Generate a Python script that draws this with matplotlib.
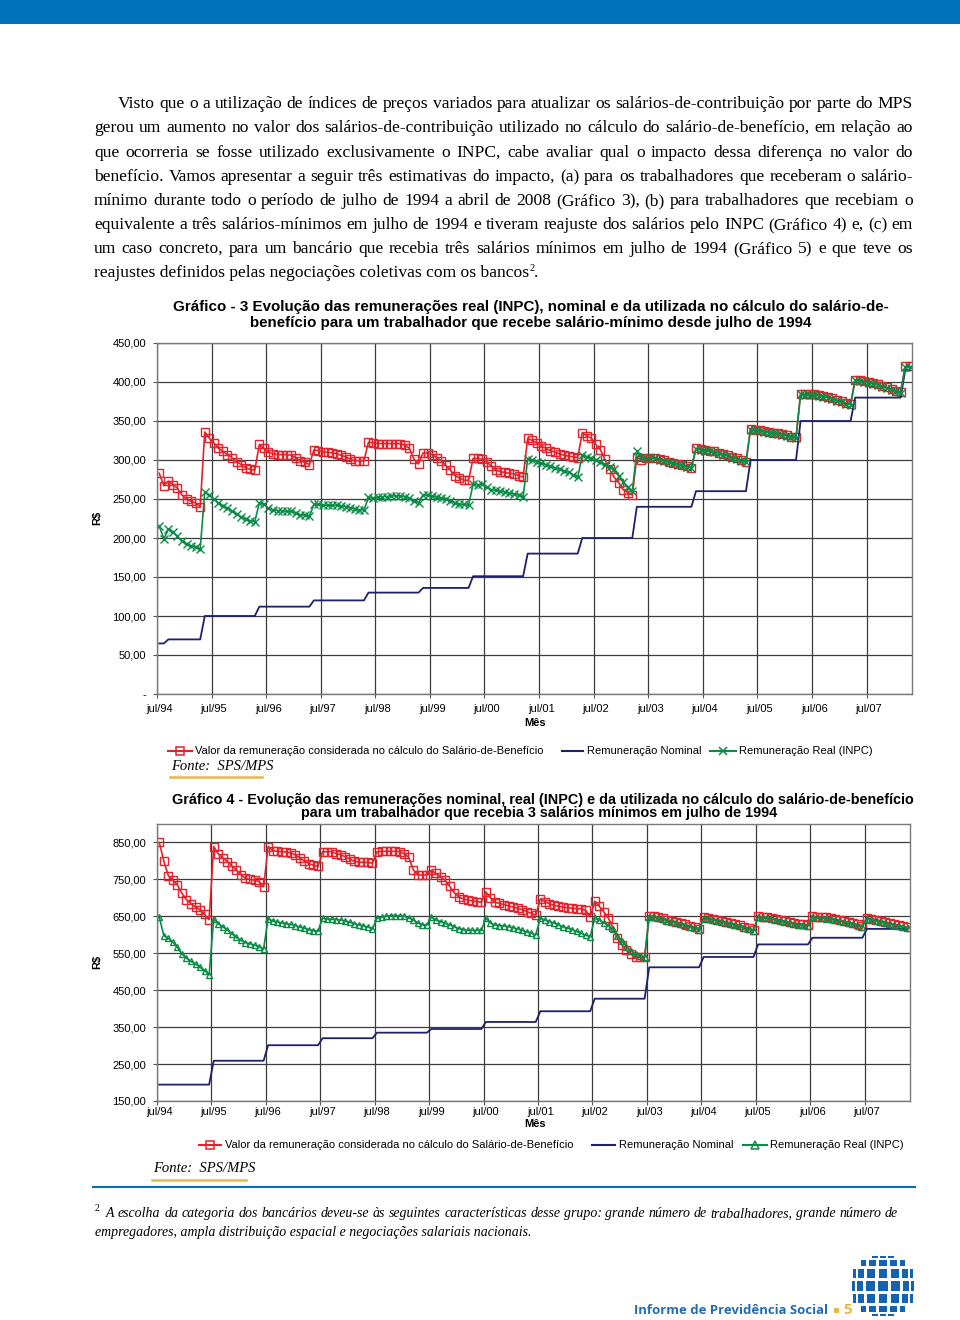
import numpy as np
import matplotlib
matplotlib.use('Agg')
import matplotlib.pyplot as plt
from matplotlib.lines import Line2D
from matplotlib.patches import Rectangle
from matplotlib.ticker import FuncFormatter

# ---------------- dados ----------------
rotulos_x = ['jul/94', 'jul/95', 'jul/96', 'jul/97', 'jul/98', 'jul/99', 'jul/00',
             'jul/01', 'jul/02', 'jul/03', 'jul/04', 'jul/05', 'jul/06', 'jul/07']

# Gráfico 3: salário-mínimo (jul/94 a abr/08, mensal)
nominal_g3_valores = [64.79, 70, 100, 112, 120, 130, 136, 151, 180, 200, 240, 260, 300, 350, 380, 415]
nominal_g3_meses = [2, 8, 12, 12, 12, 12, 11, 12, 12, 12, 13, 12, 11, 12, 11, 2]

valor_sb_g3 = [
    283, 267, 273, 268, 264, 255, 250, 247, 245, 240,
    336, 328, 322, 315, 311, 307, 303, 298, 294, 290, 288, 287,
    320, 315, 310, 308, 307, 307, 307, 306, 303, 299, 297, 294,
    313, 312, 310, 310, 309, 308, 306, 304, 301, 299, 299, 299,
    323, 322, 321, 321, 321, 321, 321, 321, 319, 315, 301, 295,
    309, 309, 307, 303, 299, 293, 287, 280, 277, 274, 274,
    302, 302, 301, 298, 292, 287, 285, 284, 283, 282, 280, 278,
    328, 325, 322, 318, 315, 312, 310, 308, 306, 305, 304, 303,
    335, 331, 328, 320, 313, 301, 288, 278, 271, 262, 258, 255,
    304, 300, 302, 303, 303, 301, 300, 298, 296, 295, 293, 292, 290,
    315, 314, 313, 312, 311, 309, 308, 306, 304, 302, 300, 298,
    340, 339, 338, 337, 336, 335, 334, 333, 332, 330, 329,
    385, 384, 384, 384, 383, 382, 381, 379, 377, 375, 373, 372,
    403, 402, 401, 400, 399, 397, 395, 393, 391, 389, 387,
    420, 420]

real_g3 = [
    215, 199, 211, 208, 202, 196, 192, 190, 188, 186,
    259, 255, 250, 245, 241, 238, 235, 231, 227, 224, 222, 221,
    245, 243, 238, 236, 235, 235, 234, 234, 232, 230, 229, 228,
    243, 243, 242, 242, 242, 242, 241, 240, 239, 237, 236, 236,
    252, 251, 252, 253, 253, 254, 254, 254, 253, 251, 248, 245,
    255, 255, 254, 252, 251, 250, 248, 245, 243, 243, 242,
    269, 268, 269, 266, 262, 261, 260, 259, 258, 256, 255, 253,
    301, 300, 298, 296, 294, 292, 290, 288, 286, 284, 281, 278,
    306, 304, 302, 300, 297, 294, 291, 288, 280, 272, 265, 260,
    312, 303, 302, 303, 302, 300, 299, 297, 296, 294, 293, 291, 290,
    314, 313, 312, 311, 310, 309, 307, 305, 303, 301, 299, 297,
    339, 338, 337, 336, 335, 334, 333, 332, 331, 329, 328,
    384, 383, 383, 383, 382, 381, 380, 378, 376, 374, 372, 371,
    402, 401, 400, 399, 398, 396, 394, 392, 390, 388, 386,
    419, 419]

# Gráfico 4: 3 salários mínimos em jul/94 reajustados pelo INPC
nominal_g4_valores = [194.37, 259, 301, 320, 335, 345, 364, 393, 427, 512, 540, 574, 592, 616]
nominal_g4_meses = [12] * 13 + [10]

valor_sb_g4 = [
    850, 800, 760, 748, 735, 712, 695, 684, 676, 667, 655, 641,
    839, 819, 808, 798, 787, 775, 763, 753, 750, 748, 744, 730,
    839, 828, 826, 825, 824, 822, 816, 808, 800, 793, 788, 785,
    825, 825, 825, 820, 817, 811, 805, 799, 797, 796, 796, 794,
    825, 826, 826, 826, 826, 825, 819, 810, 776, 762, 762, 762,
    775, 766, 757, 748, 732, 714, 703, 697, 694, 692, 690, 688,
    716, 700, 688, 685, 682, 678, 675, 672, 668, 663, 658, 653,
    697, 690, 684, 680, 677, 675, 673, 672, 671, 670, 666, 648,
    691, 677, 662, 645, 620, 590, 572, 558, 547, 541, 539, 539,
    651, 651, 648, 645, 641, 638, 635, 631, 628, 624, 621, 617,
    647, 646, 644, 641, 638, 635, 632, 629, 626, 622, 618, 613,
    650, 649, 648, 646, 643, 640, 637, 634, 632, 630, 629, 627,
    650, 649, 648, 647, 645, 642, 640, 637, 634, 631, 628, 625,
    646, 644, 641, 638, 635, 632, 629, 626, 623, 620]

real_g4 = [
    648, 598, 590, 580, 566, 548, 537, 528, 521, 512, 503, 492,
    644, 630, 622, 613, 603, 593, 585, 579, 576, 572, 568, 562,
    644, 637, 635, 632, 630, 628, 625, 621, 618, 614, 611, 610,
    645, 642, 642, 641, 640, 637, 634, 630, 627, 624, 621, 616,
    645, 648, 650, 652, 652, 651, 650, 646, 640, 632, 627, 627,
    648, 640, 636, 631, 627, 622, 617, 614, 612, 612, 612, 612,
    645, 632, 627, 625, 624, 622, 619, 616, 612, 608, 604, 600,
    645, 640, 636, 632, 627, 622, 618, 614, 609, 604, 599, 595,
    645, 640, 632, 625, 615, 598, 582, 568, 556, 548, 543, 541,
    648, 648, 645, 642, 638, 635, 632, 628, 625, 621, 618, 614,
    644, 643, 641, 638, 635, 632, 629, 626, 623, 619, 615, 610,
    647, 646, 645, 643, 640, 637, 634, 631, 629, 627, 626, 624,
    647, 646, 645, 644, 642, 639, 637, 634, 631, 628, 625, 622,
    643, 641, 638, 635, 632, 629, 626, 623, 620, 618]

paragrafo = [
    "Visto que o a utilização de índices de preços variados para atualizar os salários-de-contribuição por parte do MPS",
    "gerou um aumento no valor dos salários-de-contribuição utilizado no cálculo do salário-de-benefício, em relação ao",
    "que ocorreria se fosse utilizado exclusivamente o INPC, cabe avaliar qual o impacto dessa diferença no valor do",
    "benefício. Vamos apresentar a seguir três estimativas do impacto, (a) para os trabalhadores que receberam o salário-",
    "mínimo durante todo o período de julho de 1994 a abril de 2008 (Gráfico 3), (b) para trabalhadores que recebiam o",
    "equivalente a três salários-mínimos em julho de 1994 e tiveram reajuste dos salários pelo INPC (Gráfico 4) e, (c) em",
    "um caso concreto, para um bancário que recebia três salários mínimos em julho de 1994 (Gráfico 5) e que teve os",
]
ultima_linha = "reajustes definidos pelas negociações coletivas com os bancos"

nota = ["A escolha da categoria dos bancários deveu-se às seguintes características desse grupo: grande número de trabalhadores, grande número de",
        "empregadores, ampla distribuição espacial e negociações salariais nacionais."]

# ---------------- estilo ----------------
VERMELHO = '#e4222b'
VERDE = '#0a8c47'
AZUL_N = '#1f1f70'
AZUL = '#0071bb'
OURO = '#e9b64c'
SANS = 'Liberation Sans'
SERIF = 'Liberation Serif'

W, H = 960, 1320
fig = plt.figure(figsize=(W / 100, H / 100), dpi=100)
rend = fig.canvas.get_renderer()


def fx(x):
    return x / W


def fy(y):
    return 1 - y / H


def largura(s, **kw):
    t = fig.text(0, 0, s, **kw)
    w = t.get_window_extent(rend).width
    t.remove()
    return w


def linha_justificada(s, x0, x1, y, **kw):
    palavras = s.split(' ')
    ws = [largura(p, **kw) for p in palavras]
    esp = (x1 - x0 - sum(ws)) / (len(palavras) - 1)
    x = x0
    for p, w in zip(palavras, ws):
        fig.text(fx(x), fy(y), p, va='baseline', **kw)
        x += w + esp


def texto_ajustado(s, x0, x1, y, tam, ha='center', **kw):
    w = largura(s, size=tam, **kw)
    xa = (x0 + x1) / 2 if ha == 'center' else x0
    fig.text(fx(xa), fy(y), s, size=tam * (x1 - x0) / w, ha=ha, va='center', **kw)


# faixa azul do topo
fig.add_artist(Rectangle((0, fy(24)), 1, 24 / H, transform=fig.transFigure, color=AZUL, lw=0))

# parágrafo
fonte_par = dict(family=SERIF, size=12.6, color='black')
ys = [108, 132, 157, 181, 205, 229, 253]
for i, (linha, y) in enumerate(zip(paragrafo, ys)):
    linha_justificada(linha, 118 if i == 0 else 94, 913, y, **fonte_par)
fig.text(fx(94), fy(277), ultima_linha, va='baseline', **fonte_par)
w_ult = largura(ultima_linha, **fonte_par)
fig.text(fx(94 + w_ult + 0.5), fy(271), '2', va='baseline', family=SERIF, size=7.5)
fig.text(fx(94 + w_ult + 5), fy(277), '.', va='baseline', **fonte_par)


# ---------------- gráficos ----------------
def grafico(ret, nominal, valor, real, ymin, ymax, yticks, marcador, pad_x):
    ax = fig.add_axes(ret)
    x = np.arange(len(valor)) + 0.5
    ax.plot(x, valor, color=VERMELHO, lw=1.2, marker='s', ms=5.2, mfc='none', mec=VERMELHO, mew=1.0)
    ax.plot(x, nominal, color=AZUL_N, lw=1.3)
    ax.plot(x, real, color=VERDE, lw=1.2, marker=marcador, ms=5.0 if marcador == '^' else 5.4,
            mfc='none', mec=VERDE, mew=1.0)
    ax.set_xlim(0, len(valor))
    ax.set_ylim(ymin, ymax)
    ax.set_xticks(np.arange(0, 157, 12))
    ax.set_xticklabels([])
    ax.set_xticks(np.arange(0, 157, 12) + 0.5, minor=True)
    ax.set_xticklabels(rotulos_x, minor=True, family=SANS, size=8)
    ax.tick_params(axis='x', which='minor', length=0, pad=pad_x)
    ax.tick_params(axis='x', which='major', length=3, color='#555555')
    ax.set_yticks(yticks)
    ax.yaxis.set_major_formatter(FuncFormatter(
        lambda v, p: '-' if v == 0 else f'{v:.2f}'.replace('.', ',')))
    ax.tick_params(axis='y', length=3, pad=5, labelsize=8, color='#555555')
    for lb in ax.get_yticklabels():
        lb.set_family(SANS)
    ax.grid(True, which='major', color='#3c3c3c', lw=0.9)
    for s in ax.spines.values():
        s.set_color('#7a7a7a')
        s.set_linewidth(1.0)
    return ax


grafico([fx(157), fy(694), 755 / W, 351 / H],
        np.repeat(nominal_g3_valores, nominal_g3_meses), valor_sb_g3, real_g3,
        0, 450, np.arange(0, 451, 50), 'x', 7)
grafico([fx(157), fy(1101), 753 / W, 277 / H],
        np.repeat(nominal_g4_valores, nominal_g4_meses), valor_sb_g4, real_g4,
        150, 900, np.arange(150, 851, 100), '^', 4)

# títulos
tit = dict(family=SANS, weight='bold', color='black')
texto_ajustado("Gráfico - 3 Evolução das remunerações real (INPC), nominal e da utilizada no cálculo do salário-de-",
               173, 888, 307, 10, **tit)
texto_ajustado("benefício para um trabalhador que recebe salário-mínimo desde julho de 1994",
               250, 811, 323, 10, **tit)
texto_ajustado("Gráfico 4 - Evolução das remunerações nominal, real (INPC) e da utilizada no cálculo do salário-de-benefício",
               172, 914, 800, 9, **tit)
texto_ajustado("para um trabalhador que recebia 3 salários mínimos em julho de 1994",
               301, 778, 813, 9, **tit)

# rótulos dos eixos
for yc in (518, 962):
    fig.text(fx(97), fy(yc), 'R$', rotation=90, ha='center', va='center', family=SANS, weight='bold', size=8)
fig.text(fx(535), fy(723), 'Mês', ha='center', va='center', family=SANS, weight='bold', size=8)
fig.text(fx(535), fy(1124), 'Mês', ha='center', va='center', family=SANS, weight='bold', size=8)


# legendas
def item_legenda(x0, x1, y, cor, marcador, texto, xt):
    fig.add_artist(Line2D([fx(x0), fx(x1)], [fy(y), fy(y)], transform=fig.transFigure, color=cor, lw=1.5))
    if marcador:
        fig.add_artist(Line2D([fx((x0 + x1) / 2)], [fy(y)], transform=fig.transFigure, color=cor,
                              marker=marcador, ms=5.5, mfc='none', mew=1.1))
    fig.text(fx(xt), fy(y), texto, ha='left', va='center', family=SANS, size=8)


item_legenda(168, 192, 751, VERMELHO, 's', 'Valor da remuneração considerada no cálculo do Salário-de-Benefício', 195)
item_legenda(562, 583, 751, AZUL_N, None, 'Remuneração Nominal', 587)
item_legenda(710, 736, 751, VERDE, 'x', 'Remuneração Real (INPC)', 739)
item_legenda(199, 221, 1145, VERMELHO, 's', 'Valor da remuneração considerada no cálculo do Salário-de-Benefício', 225)
item_legenda(592, 615, 1145, AZUL_N, None, 'Remuneração Nominal', 619)
item_legenda(743, 767, 1145, VERDE, '^', 'Remuneração Real (INPC)', 770)

# fontes
for xf, yf, xl0, xl1, yl in ((171, 767, 170, 262, 777), (153, 1168, 152, 246, 1180)):
    fig.text(fx(xf), fy(yf), 'Fonte:  SPS/MPS', ha='left', va='center', family=SERIF, style='italic', size=10.5)
    fig.add_artist(Line2D([fx(xl0), fx(xl1)], [fy(yl), fy(yl)], transform=fig.transFigure, color=OURO, lw=1.8))

# nota de rodapé
fig.add_artist(Line2D([fx(93), fx(915)], [fy(1187), fy(1187)], transform=fig.transFigure, color=AZUL, lw=1.5))
fonte_nota = dict(family=SERIF, style='italic', size=10, color='black')
fig.text(fx(95), fy(1211), '2', va='baseline', family=SERIF, size=7)
linha_justificada(nota[0], 106, 898, 1217, **fonte_nota)
fig.text(fx(95), fy(1236), nota[1], va='baseline', **fonte_nota)

# rodapé
texto_ajustado('Informe de Previdência Social', 634, 828, 1310, 10, ha='left',
               family='Open Sans', weight='bold', color='#1f6db5')
fig.add_artist(Rectangle((fx(834), fy(1313)), 5 / W, 5 / H, transform=fig.transFigure, color=OURO, lw=0))
fig.text(fx(843), fy(1310), '5', ha='left', va='center', family='Open Sans', weight='bold', size=11, color=OURO)

# logotipo (globo de quadrados)
axl = fig.add_axes([fx(848), fy(1320), 70 / W, 68 / H])
axl.set_xlim(-1.12, 1.12)
axl.set_ylim(-1.12, 1.12)
axl.axis('off')
for i in range(-3, 4):
    for j in range(-3, 4):
        la, lo = i * 0.42, j * 0.42
        if la ** 2 + lo ** 2 > 1.9:
            continue
        cx, cy = np.sin(lo) * np.cos(la * 0.7), np.sin(la)
        w, h = 0.3 * np.cos(lo) * np.cos(la * 0.7), 0.3 * np.cos(la)
        axl.add_patch(Rectangle((cx - w / 2, cy - h / 2), w, h, color='#1463b0', lw=0))

fig.savefig('out.png', dpi=100)
